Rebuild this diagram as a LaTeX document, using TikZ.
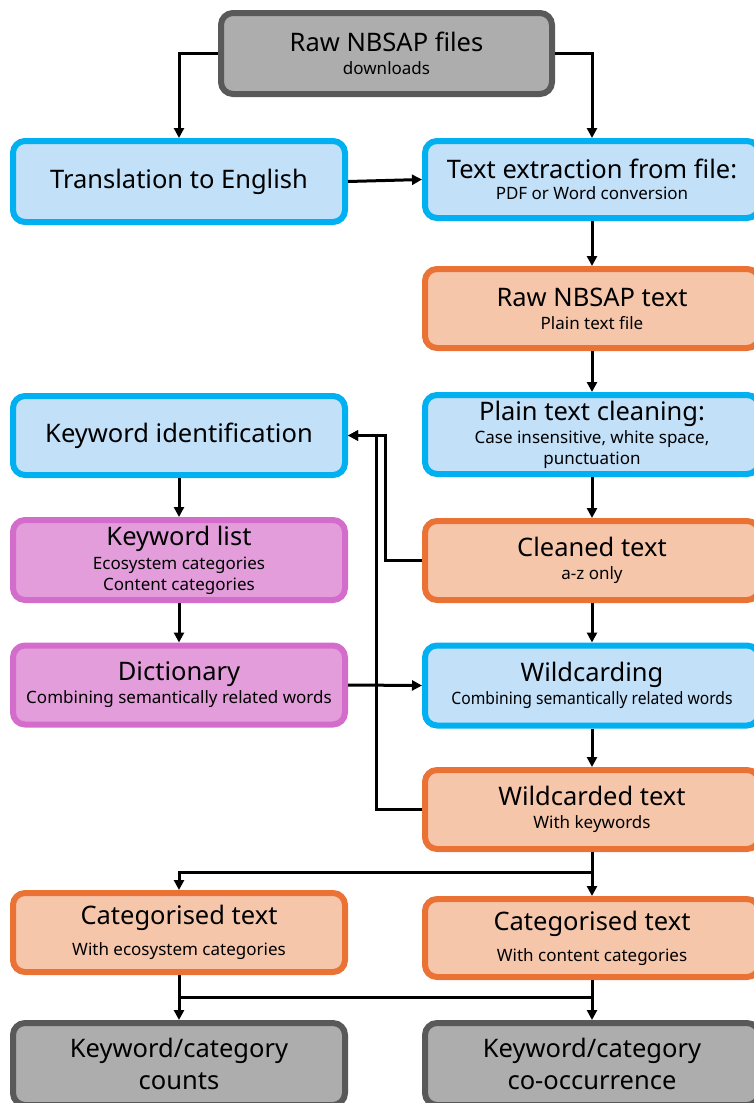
\documentclass[tikz,border=0pt]{standalone}
\usepackage{fontspec}
\setmainfont{Noto Sans}
\usetikzlibrary{arrows.meta,calc}
\definecolor{grayfill}{HTML}{ADADAD}
\definecolor{grayline}{HTML}{595959}
\definecolor{bluefill}{HTML}{C2E0F8}
\definecolor{blueline}{HTML}{00B0F0}
\definecolor{orangefill}{HTML}{F6C6AB}
\definecolor{orangeline}{HTML}{EA7235}
\definecolor{purplefill}{HTML}{E39DDB}
\definecolor{purpleline}{HTML}{D46CCC}
\newcommand{\smt}[1]{{\fontsize{17}{21}\selectfont #1}}
\tikzset{
  x=1pt, y=-1pt,
  box/.style={rounded corners=12pt, line width=6pt, minimum width=332pt, minimum height=79pt, align=center, inner sep=2pt, text=black, font=\fontsize{25.5}{30}\selectfont},
  graybox/.style={box, draw=grayline, fill=grayfill},
  bluebox/.style={box, draw=blueline, fill=bluefill},
  orangebox/.style={box, draw=orangeline, fill=orangefill},
  purplebox/.style={box, draw=purpleline, fill=purplefill},
  conn/.style={line width=3pt, -{Triangle[length=10pt,width=10pt]}},
  plainconn/.style={line width=3pt},
}
\begin{document}
\begin{tikzpicture}
\useasboundingbox (0,0) rectangle (753,1103);
\node[graybox, minimum width=331pt, minimum height=81pt] (top) at (386.5,53.5) {Raw NBSAP files\\[-7pt]\smt{downloads}};
\node[bluebox, minimum height=81pt] (trans) at (179,181.5) {Translation to English};
\node[bluebox, minimum width=334pt, minimum height=77pt] (extr) at (592,179.5) {Text extraction from file:\\[-9pt]\smt{PDF or Word conversion}};
\node[orangebox, minimum width=334pt] (raw) at (592,308.5) {Raw NBSAP text\\[-7pt]\smt{Plain text file}};
\node[bluebox, minimum width=334pt] (plain) at (592,434.5) {Plain text cleaning:\\[-7pt]\smt{Case insensitive, white space,}\\[-9pt]\smt{punctuation}};
\node[bluebox] (kwid) at (179,435.5) {Keyword identification};
\node[purplebox, minimum height=80pt] (kwlist) at (179,560) {Keyword list\\[-6pt]\smt{Ecosystem categories}\\[-9pt]\smt{Content categories}};
\node[orangebox, minimum width=334pt] (clean) at (592,560.5) {Cleaned text\\[-7pt]\smt{a-z only}};
\node[purplebox] (dict) at (179,685) {Dictionary\\[-7pt]\smt{Combining semantically related words}};
\node[bluebox, minimum width=334pt, minimum height=80pt] (wild) at (592,685.5) {Wildcarding\\[-7pt]\smt{\scalebox{0.92}[1]{Combining semantically related words}}};
\node[orangebox, minimum width=334pt] (wilded) at (592,809.5) {Wildcarded text\\[-7pt]\smt{With keywords}};
\node[orangebox] (catL) at (179,932.5) {Categorised text\\[1pt]\smt{With ecosystem categories}};
\node[orangebox, minimum width=334pt, minimum height=78pt] (catR) at (592,938) {Categorised text\\[1pt]\smt{With content categories}};
\node[graybox, minimum height=82pt] (counts) at (179,1064) {Keyword/category\\[2pt]counts};
\node[graybox, minimum width=334pt, minimum height=82pt] (cooc) at (592,1064) {Keyword/category\\[2pt]co-occurrence};
% connectors
\draw[conn] (top.west) -| (trans.north);
\draw[conn] (top.east) -| (extr.north);
\draw[conn] (trans.east) -- (extr.west);
\draw[conn] (extr.south) -- (raw.north);
\draw[conn] (raw.south) -- (plain.north);
\draw[conn] (plain.south) -- (clean.north);
\draw[conn] (clean.south) -- (wild.north);
\draw[conn] (wild.south) -- (wilded.north);
\draw[conn] (kwid.south) -- (kwlist.north);
\draw[conn] (kwlist.south) -- (dict.north);
\draw[conn] (dict.east) -- (wild.west);
\coordinate (c1) at ($(clean.west)+(-37,0)$);
\coordinate (c2) at ($(wilded.west)+(-46,0)$);
\draw[conn] (clean.west) -- (c1) |- (kwid.east);
\draw[conn] (wilded.west) -- (c2) |- (kwid.east);
\coordinate (b1) at ($(wilded.south)+(0,20)$);
\draw[conn] (wilded.south) -- (catR.north);
\draw[conn] (b1) -| (catL.north);
\coordinate (b2) at (179,997);
\draw[conn] (catL.south) -- (counts.north);
\draw[conn] (catR.south) -- (cooc.north);
\draw[plainconn] (catL.south |- b2) -- (catR.south |- b2);
\end{tikzpicture}
\end{document}
